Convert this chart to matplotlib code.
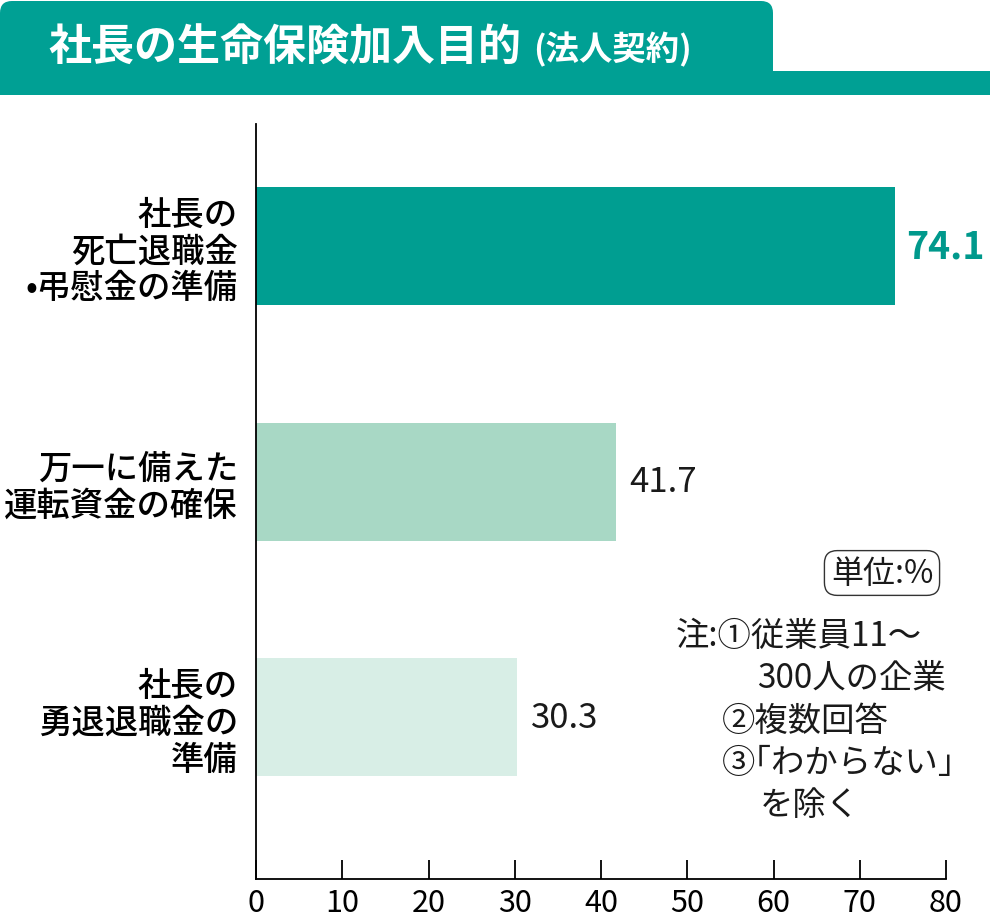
import matplotlib.pyplot as plt
from matplotlib.patches import FancyBboxPatch, Rectangle

plt.rcParams['font.family'] = ['Noto Sans CJK JP', 'DejaVu Sans']

title = "社長の生命保険加入目的"
subtitle = "(法人契約)"
categories = ["社長の\n死亡退職金\n•弔慰金の準備",
              "万一に備えた\n運転資金の確保",
              "社長の\n勇退退職金の\n準備"]
values = [74.1, 41.7, 30.3]
xticks = [0, 10, 20, 30, 40, 50, 60, 70, 80]
unit_label = "単位:%"
notes = ["注:①従業員11～", "300人の企業", "②複数回答", "③｢わからない｣", "を除く"]
note_x = [676, 757, 722, 722, 760]

teal = "#00a094"
bar_colors = ["#009e91", "#a8d8c5", "#d8eee6"]
label_colors = ["#00998c", "#1a1a1a", "#1a1a1a"]

fig = plt.figure(figsize=(10, 9.2), dpi=100)

# header band drawn in pixel coords
bg = fig.add_axes([0, 0, 1, 1])
bg.set_xlim(0, 1000)
bg.set_ylim(920, 0)
bg.axis("off")
bg.add_patch(FancyBboxPatch((0, 2), 773, 94, boxstyle="round,pad=0,rounding_size=12",
                            fc=teal, ec="none"))
bg.add_patch(Rectangle((0, 72), 990, 24, fc=teal, ec="none"))
bg.text(48, 48, title, color="white", fontsize=31, fontweight="bold", va="center", ha="left")
bg.text(533, 50, subtitle, color="white", fontsize=24, fontweight="bold", va="center", ha="left")

# unit box and notes
bg.text(882, 574, unit_label, fontsize=23, ha="center", va="center", color="#1a1a1a",
        bbox=dict(boxstyle="round,pad=0.2,rounding_size=0.4", fc="white", ec="#333333", lw=1))
for i, (line, x) in enumerate(zip(notes, note_x)):
    bg.text(x, 636 + i * 42.5, line, fontsize=24, ha="left", va="center", color="#1a1a1a")

ax = fig.add_axes([0.256, 0.0435, 0.69, 0.8205])
ypos = list(range(len(values)))
ax.barh(ypos, values, height=0.5, color=bar_colors)
for y, v, c in zip(ypos, values, label_colors):
    if y == 0:
        ax.text(v + 1.3, y, f"{v}", color=c, fontsize=27, fontweight="bold", va="center")
    else:
        ax.text(v + 1.6, y, f"{v}", color=c, fontsize=25, va="center")

ax.set_xlim(0, 80)
ax.set_ylim(2.686, -0.517)
ax.set_xticks(xticks)
ax.set_xticklabels([str(t) for t in xticks], fontsize=22)
ax.set_yticks(ypos)
ax.set_yticklabels(categories, fontsize=24, fontweight="medium", linespacing=1.07, ha="right")
ax.tick_params(axis="x", direction="in", length=14, width=1.3, pad=6)
ax.tick_params(axis="y", length=0, pad=13)
ax.spines["top"].set_visible(False)
ax.spines["right"].set_visible(False)
ax.spines["left"].set_linewidth(1.3)
ax.spines["bottom"].set_linewidth(1.3)
ax.patch.set_alpha(0)

fig.savefig("out.png")
